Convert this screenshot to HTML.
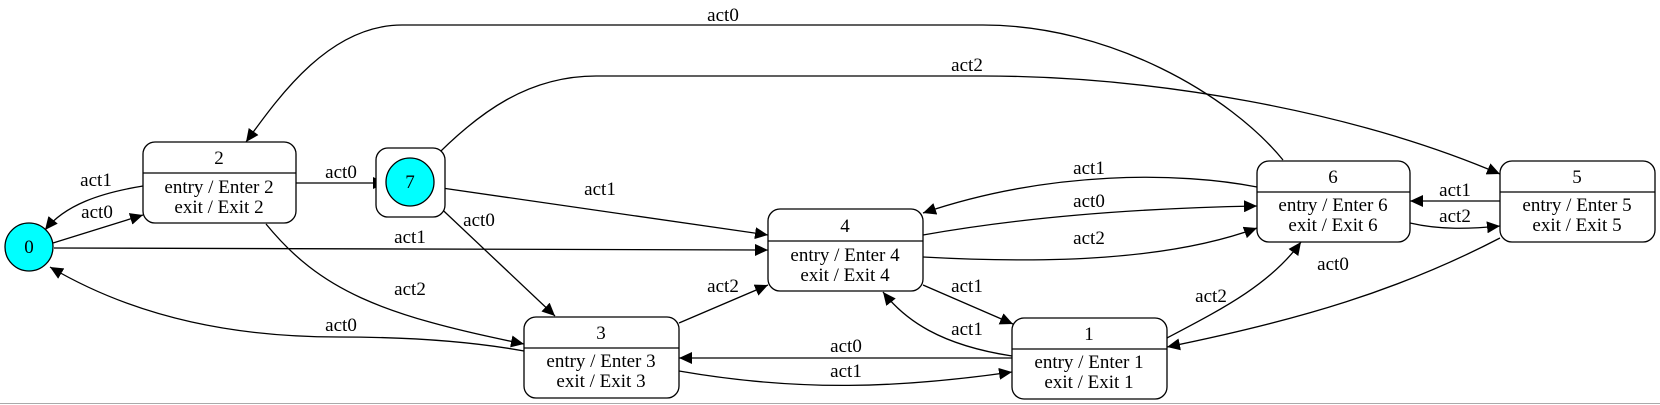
<!DOCTYPE html>
<html><head><meta charset="utf-8"><style>
html,body{margin:0;padding:0;background:#fff;}
svg{display:block;font-family:"Liberation Serif",serif;}
</style></head><body>
<svg width="1660" height="405" viewBox="0 0 1660 405" xmlns="http://www.w3.org/2000/svg">
<defs>
<marker id="a" markerWidth="14" markerHeight="12" refX="13" refY="6" orient="auto" markerUnits="userSpaceOnUse">
<path d="M0,0 L13,6 L0,12 z" fill="#000"/></marker>
</defs>
<line x1="0" y1="403.5" x2="1660" y2="403.5" stroke="#aaa" stroke-width="1"/>
<g fill="none" stroke="#000" stroke-width="1.3" marker-end="url(#a)">
<path d="M1283,160 C1230,95 1110,25 983,25 L402,25 C330,25 280,95 246,142"/>
<path d="M429,163 C480,110 530,76 596,76 L983,76 C1150,76 1350,110 1500,174"/>
<path d="M296,183 L386,183"/>
<path d="M143,186 C100,193 65,205 45,230"/>
<path d="M53,243 L143,215"/>
<path d="M54,248 L768,250"/>
<path d="M435,187 L768,235"/>
<path d="M430,198 L555,316"/>
<path d="M266,224 C320,290 380,315 524,344"/>
<path d="M524,351 C480,343 420,337 339,337 C240,337 140,320 50,267"/>
<path d="M679,323 L768,285"/>
<path d="M1012,358 L679,358"/>
<path d="M679,371 C800,392 900,388 1012,372"/>
<path d="M923,285 L1013,324"/>
<path d="M1012,356 C940,345 905,320 883,292"/>
<path d="M1167,338 C1220,310 1270,285 1301,242"/>
<path d="M1500,238 C1400,290 1300,320 1167,347"/>
<path d="M1257,187 C1180,172 1050,170 923,213"/>
<path d="M923,235 C1030,216 1150,208 1257,206"/>
<path d="M923,257 C1050,264 1170,260 1257,228"/>
<path d="M1500,201 L1410,201"/>
<path d="M1410,223 C1440,230 1470,229 1500,226"/>
</g>
<g fill="#fff" stroke="#000" stroke-width="1.3">
<ellipse cx="29" cy="247" rx="24" ry="24" fill="#00ffff"/>
<rect x="143" y="142" width="153" height="81" rx="12"/>
<rect x="376" y="148" width="69" height="69" rx="12"/>
<ellipse cx="410" cy="182" rx="24" ry="24" fill="#00ffff"/>
<rect x="768" y="209" width="155" height="82" rx="12"/>
<rect x="524" y="317" width="155" height="81" rx="12"/>
<rect x="1012" y="318" width="155" height="81" rx="12"/>
<rect x="1257" y="161" width="153" height="81" rx="12"/>
<rect x="1500" y="161" width="155" height="81" rx="12"/>
<line x1="143" y1="173" x2="296" y2="173"/>
<line x1="768" y1="241" x2="923" y2="241"/>
<line x1="524" y1="348" x2="679" y2="348"/>
<line x1="1012" y1="349" x2="1167" y2="349"/>
<line x1="1257" y1="192" x2="1410" y2="192"/>
<line x1="1500" y1="192" x2="1655" y2="192"/>
</g>
<g font-size="19" text-anchor="middle" fill="#000">
<text x="29" y="253">0</text>
<text x="410" y="188">7</text>
<text x="219" y="164">2</text><text x="219" y="193">entry / Enter 2</text><text x="219" y="213">exit / Exit 2</text>
<text x="845" y="232">4</text><text x="845" y="261">entry / Enter 4</text><text x="845" y="281">exit / Exit 4</text>
<text x="601" y="339">3</text><text x="601" y="367">entry / Enter 3</text><text x="601" y="387">exit / Exit 3</text>
<text x="1089" y="340">1</text><text x="1089" y="368">entry / Enter 1</text><text x="1089" y="388">exit / Exit 1</text>
<text x="1333" y="183">6</text><text x="1333" y="211">entry / Enter 6</text><text x="1333" y="231">exit / Exit 6</text>
<text x="1577" y="183">5</text><text x="1577" y="211">entry / Enter 5</text><text x="1577" y="231">exit / Exit 5</text>
<text x="723" y="21">act0</text>
<text x="967" y="71">act2</text>
<text x="341" y="178">act0</text>
<text x="96" y="186">act1</text>
<text x="97" y="218">act0</text>
<text x="410" y="243">act1</text>
<text x="600" y="195">act1</text>
<text x="479" y="226">act0</text>
<text x="410" y="295">act2</text>
<text x="341" y="331">act0</text>
<text x="723" y="292">act2</text>
<text x="846" y="352">act0</text>
<text x="846" y="377">act1</text>
<text x="967" y="292">act1</text>
<text x="967" y="335">act1</text>
<text x="1211" y="302">act2</text>
<text x="1333" y="270">act0</text>
<text x="1089" y="174">act1</text>
<text x="1089" y="207">act0</text>
<text x="1089" y="244">act2</text>
<text x="1455" y="196">act1</text>
<text x="1455" y="222">act2</text>
</g>
</svg>
</body></html>
